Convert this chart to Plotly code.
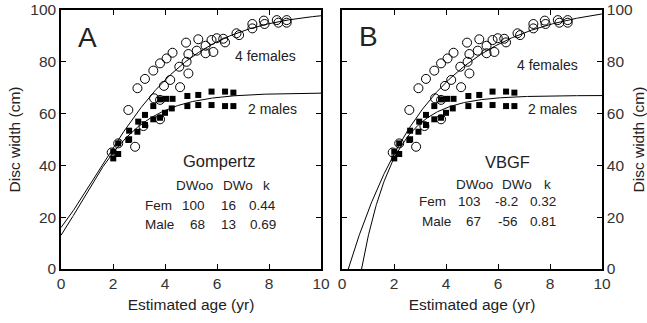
import numpy as np
import plotly.graph_objects as go

fem_age = [1.95, 2.2, 2.59, 2.85, 2.94, 3.17, 3.23, 3.55, 3.58, 3.81, 3.81, 3.81, 3.96, 4.06,
           4.2, 4.29, 4.55, 4.58, 4.81, 4.83, 4.9, 4.9, 5.22, 5.28, 5.56, 5.56, 5.79, 5.86,
           5.99, 6.24, 6.31, 6.75, 6.85, 7.36, 7.36, 7.8, 7.83, 8.3, 8.36, 8.68, 8.68]
fem_dw = [45.0, 48.5, 61.4, 47.2, 69.8, 55.2, 73.4, 76.6, 65.9, 79.4, 65.3, 57.8, 70.7, 81.3,
          73.0, 83.5, 78.1, 70.2, 87.4, 80.0, 83.0, 75.5, 84.3, 88.7, 86.2, 83.3, 88.4, 83.8,
          89.1, 88.9, 87.5, 91.0, 90.3, 94.6, 92.9, 95.9, 94.6, 96.1, 95.1, 96.1, 95.1]

male_age = [2.01, 2.2, 2.01, 2.2, 2.59, 2.62, 2.62, 2.94, 2.97, 3.23, 3.23, 3.55, 3.55, 3.81,
            3.81, 4.0, 4.04, 4.26, 4.29, 4.86, 4.86, 5.28, 5.28, 5.79, 5.79, 6.31, 6.31, 6.63, 6.63]
male_dw = [45.3, 44.4, 42.7, 48.5, 49.8, 53.4, 50.1, 53.0, 56.9, 59.5, 55.6, 62.9, 57.8, 65.5,
           58.4, 60.3, 65.7, 62.0, 65.7, 66.8, 62.9, 67.2, 63.3, 68.5, 63.3, 68.5, 62.9, 68.1, 62.9]

# ---- fitted parameters: DWoo, DWo, k ----
gomp_fem = [100, 16, 0.44]
gomp_male = [68, 13, 0.69]
vbgf_fem = [103, -8.2, 0.32]
vbgf_male = [67, -56, 0.81]

x_ticks = [0, 2, 4, 6, 8, 10]
y_ticks = [0, 20, 40, 60, 80, 100]

t = np.linspace(0, 10, 401)


def gompertz(p):
    linf, l0, k = p
    return linf * (l0 / linf) ** np.exp(-k * t)


def vbgf(p):
    linf, l0, k = p
    return linf - (linf - l0) * np.exp(-k * t)


fig = go.Figure()

def add_panel(xa, ya, curves):
    for y in curves:
        m = y >= -2
        fig.add_trace(go.Scatter(x=t[m], y=y[m], mode="lines", xaxis=xa, yaxis=ya,
                                 line=dict(color="black", width=1), showlegend=False,
                                 hoverinfo="skip"))
    fig.add_trace(go.Scatter(x=fem_age, y=fem_dw, mode="markers", xaxis=xa, yaxis=ya,
                             marker=dict(symbol="circle-open", size=9, color="black",
                                         line=dict(width=1)), showlegend=False))
    fig.add_trace(go.Scatter(x=male_age, y=male_dw, mode="markers", xaxis=xa, yaxis=ya,
                             marker=dict(symbol="square", size=6, color="black"),
                             showlegend=False))

add_panel("x", "y", [gompertz(gomp_fem), gompertz(gomp_male)])
add_panel("x2", "y2", [vbgf(vbgf_fem), vbgf(vbgf_male)])

FONT = "Liberation Sans, Arial, sans-serif"
tickfont = dict(family=FONT, size=15.5, color="#333")
axis_common = dict(showline=True, linecolor="black", linewidth=1.5, mirror="ticks",
                   ticks="inside", ticklen=5, tickwidth=1, tickcolor="black",
                   showgrid=False, zeroline=False, tickfont=tickfont, automargin=False)

ydom = [1 - 269 / 323, 1 - 10 / 323]
title_font = dict(size=15.5, color="#222", family=FONT)
fig.update_layout(
    width=647, height=323, margin=dict(l=0, r=0, t=0, b=0),
    paper_bgcolor="white", plot_bgcolor="white",
    font=dict(family=FONT, color="#222"),
    xaxis=dict(domain=[61 / 647, 321 / 647], range=[0, 10], tickvals=x_ticks,
               title=dict(text="Estimated age (yr)", font=title_font, standoff=8),
               anchor="y", **axis_common),
    yaxis=dict(domain=ydom, range=[0, 100], tickvals=y_ticks,
               title=dict(text="Disc width (cm)", font=title_font, standoff=6),
               anchor="x", **axis_common),
    xaxis2=dict(domain=[342 / 647, 602 / 647], range=[0, 10], tickvals=x_ticks,
                title=dict(text="Estimated age (yr)", font=title_font, standoff=8),
                anchor="y2", **axis_common),
    yaxis2=dict(domain=ydom, range=[0, 100], tickvals=y_ticks, side="right",
                title=dict(text="Disc width (cm)", font=title_font, standoff=3),
                anchor="x2", **axis_common),
)

def txt(xr, yr, x, y, s, size, anchor="center"):
    fig.add_annotation(xref=xr, yref=yr, x=x, y=y, text=s, showarrow=False,
                       xanchor=anchor, yanchor="middle",
                       font=dict(size=size, color="#222", family=FONT))

# Panel A text
txt("x", "y", 1.0, 89.2, "A", 28)
txt("x", "y", 7.88, 82.2, "4 females", 14)
txt("x", "y", 8.12, 61.8, "2 males", 14)
txt("x", "y", 6.08, 41.8, "Gompertz", 16.5)
txt("x", "y", 5.12, 32.4, "DWoo", 13.5)
txt("x", "y", 6.81, 32.4, "DWo", 13.5)
txt("x", "y", 7.91, 32.4, "k", 13.5)
for lab, p, yv in [("Fem", gomp_fem, 24.7), ("Male", gomp_male, 17.0)]:
    txt("x", "y", 3.15, yv, lab, 13.5, "left")
    txt("x", "y", 5.6, yv, f"{p[0]:g}", 13.5, "right")
    txt("x", "y", 6.81, yv, f"{p[1]:g}", 13.5, "right")
    txt("x", "y", 8.36, yv, f"{p[2]:.2f}", 13.5, "right")

# Panel B text
txt("x2", "y2", 1.0, 89.6, "B", 28)
txt("x2", "y2", 7.9, 78.8, "4 females", 14)
txt("x2", "y2", 8.1, 61.8, "2 males", 14)
txt("x2", "y2", 6.35, 41.4, "VBGF", 16.5)
txt("x2", "y2", 5.08, 32.8, "DWoo", 13.5)
txt("x2", "y2", 6.72, 32.8, "DWo", 13.5)
txt("x2", "y2", 7.92, 32.8, "k", 13.5)
for lab, p, yv, lx in [("Fem", vbgf_fem, 26.0, 2.87), ("Male", vbgf_male, 18.3, 3.0)]:
    txt("x2", "y2", lx, yv, lab, 13.5, "left")
    txt("x2", "y2", 5.42, yv, f"{p[0]:g}", 13.5, "right")
    txt("x2", "y2", 6.85, yv, f"{p[1]:g}", 13.5, "right")
    txt("x2", "y2", 8.31, yv, f"{p[2]:.2f}", 13.5, "right")

fig.write_html("out.html", config={"displayModeBar": False},
               post_script="document.body.style.margin='0';document.body.style.padding='0';")
